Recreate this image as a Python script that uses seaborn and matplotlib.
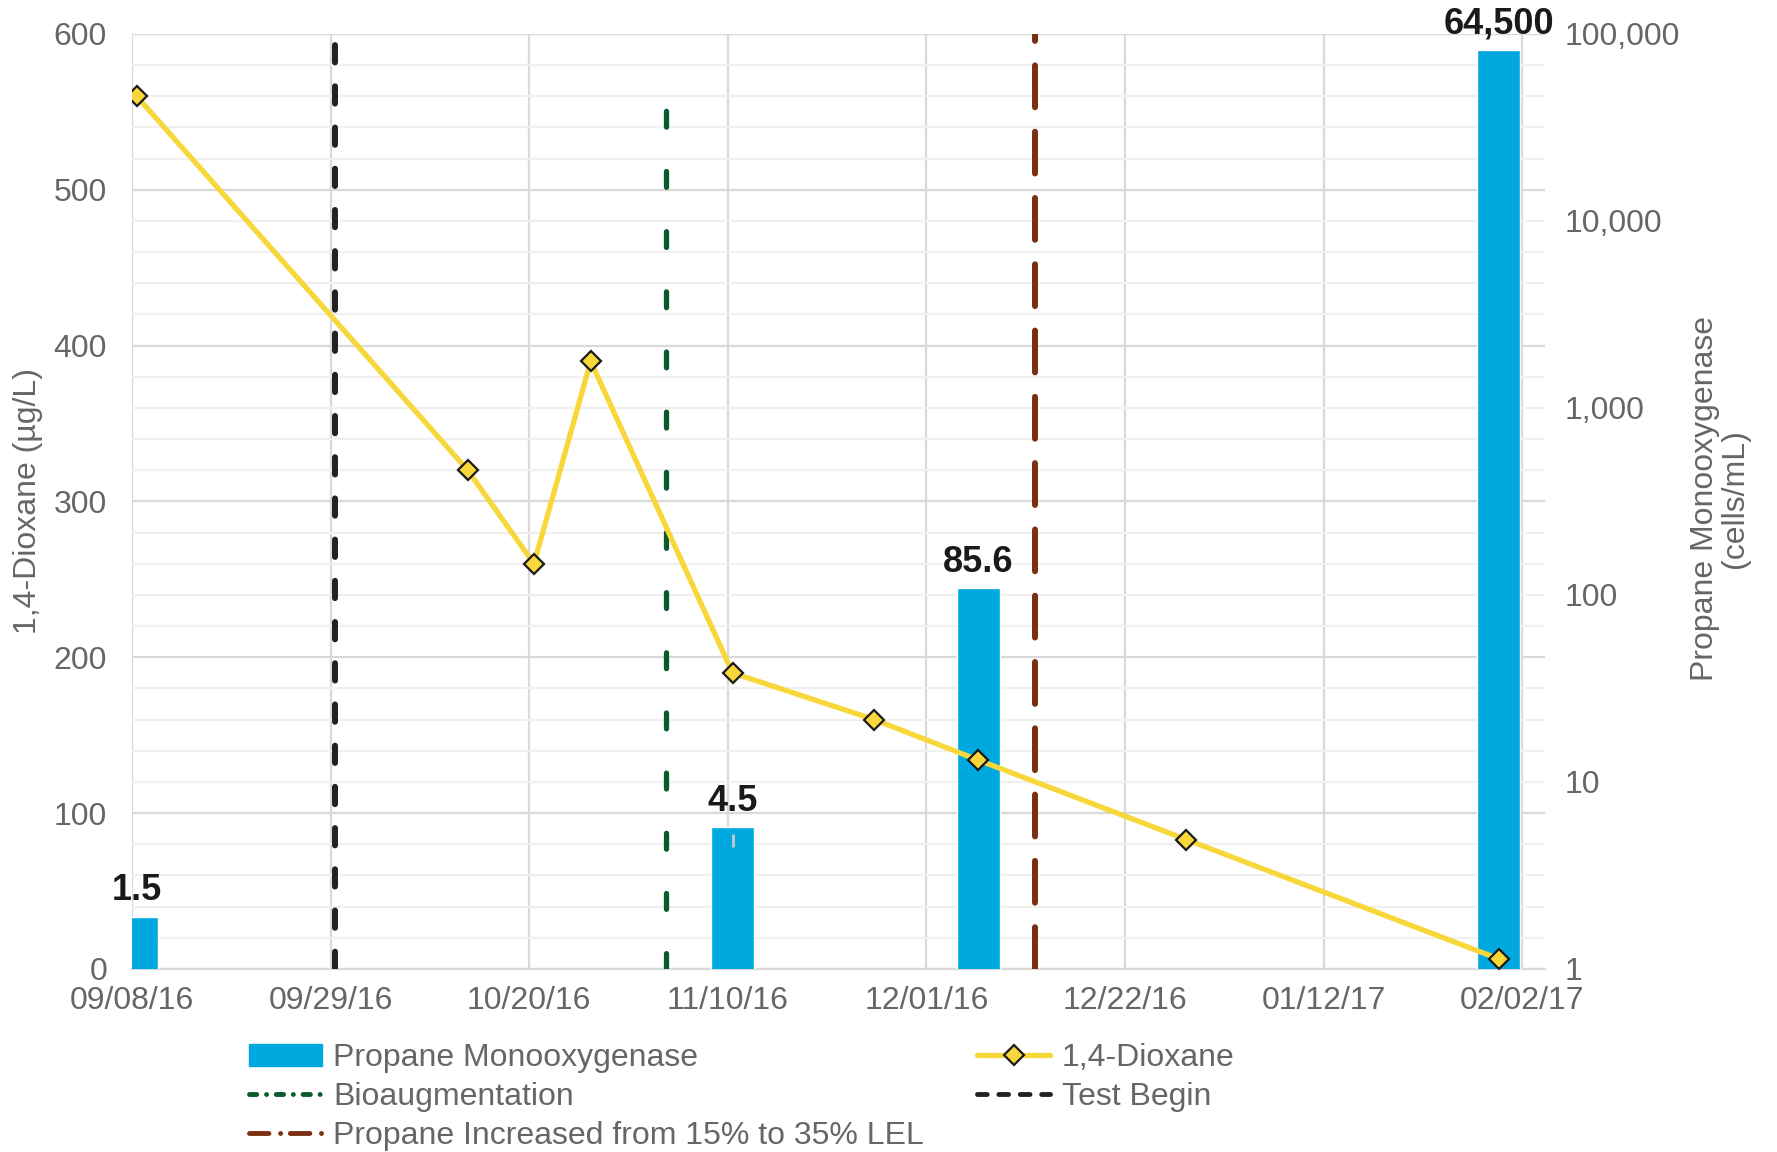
import matplotlib
matplotlib.use("Agg")
import matplotlib.pyplot as plt
import matplotlib.ticker as mticker
import matplotlib.dates as mdates
from matplotlib.lines import Line2D
from matplotlib.patches import Patch
import pandas as pd
import seaborn as sns

# ---------------------------------------------------------------------------
# Data
# ---------------------------------------------------------------------------
dioxane_dates = ["2016-09-08", "2016-10-13", "2016-10-20", "2016-10-26", "2016-11-10",
                 "2016-11-25", "2016-12-06", "2016-12-28", "2017-01-30"]
dioxane_ugL = [560, 320, 260, 390, 190, 160, 134, 83, 6.5]

pmo_dates = ["2016-09-08", "2016-11-10", "2016-12-06", "2017-01-30"]
pmo_bar_cells = [1.9, 5.75, 109, 82000]          # bar tops as drawn
pmo_labels = ["1.5", "4.5", "85.6", "64,500"]     # printed values
pmo_err_date = ["2016-11-10"]
pmo_err_low = [4.5]
pmo_err_high = [5.3]

test_begin = "2016-09-29"
bioaugmentation = "2016-11-03"
propane_increase = "2016-12-12"

tick_dates = ["2016-09-08", "2016-09-29", "2016-10-20", "2016-11-10",
              "2016-12-01", "2016-12-22", "2017-01-12", "2017-02-02"]
left_ticks = [0, 100, 200, 300, 400, 500, 600]
right_ticks = [1, 10, 100, 1000, 10000, 100000]

BLUE = "#00A8E0"
YELLOW = "#F8D73A"
GREEN = "#0B5A2A"
BROWN = "#7A3010"
BLACK = "#222222"
GRAY = "#666666"
GRID = "#d9d9d9"
GRID_MINOR = "#f0f0f0"

HALF_DAY = pd.Timedelta(hours=12)
FS = 23

sns.set_theme(style="white")
plt.rcParams["font.family"] = ["Liberation Sans", "DejaVu Sans"]

fig = plt.figure(figsize=(17.77, 11.52), dpi=100)
ax1 = fig.add_axes([0.0743, 0.1589, 0.7951, 0.8116])
ax2 = ax1.twinx()
ax3 = ax1.twinx()

# grid / left axis
ax1.set_ylim(0, 600)
ax1.set_yticks(left_ticks)
ax1.yaxis.set_minor_locator(mticker.MultipleLocator(20))
ax1.grid(which="major", axis="y", color=GRID, lw=1.6)
ax1.grid(which="minor", axis="y", color=GRID_MINOR, lw=1.6)
ax1.grid(which="major", axis="x", color=GRID, lw=1.6)
ax1.set_xticks(pd.to_datetime(tick_dates))
ax1.xaxis.set_major_formatter(mdates.DateFormatter("%m/%d/%y"))
ax1.set_xlim(pd.Timestamp("2016-09-08"), pd.Timestamp("2016-09-08") + pd.Timedelta(days=149.4))
ax1.tick_params(axis="y", which="both", length=0, labelsize=FS, labelcolor=GRAY, pad=18)
ax1.tick_params(axis="x", length=0, labelsize=FS, labelcolor=GRAY, pad=12)
ax1.set_ylabel("1,4-Dioxane (µg/L)", fontsize=FS, color=GRAY)
ax1.yaxis.set_label_coords(-0.063, 0.5)
for s in ax1.spines.values():
    s.set_visible(False)
ax1.spines["bottom"].set_visible(True)
ax1.spines["bottom"].set_color(GRID)
ax1.spines["bottom"].set_linewidth(1.6)

# bars on the log axis
pmo_x = pd.to_datetime(pmo_dates) + HALF_DAY
ax2.bar(pmo_x, pmo_bar_cells, width=4.55, color=BLUE, zorder=2)
ax2.vlines(pd.to_datetime(pmo_err_date) + HALF_DAY, pmo_err_low, pmo_err_high,
           color="#c8c8c8", lw=2, zorder=3)
ax2.set_yscale("log")
ax2.set_ylim(1, 100000)
ax2.set_yticks(right_ticks)
ax2.yaxis.set_minor_locator(mticker.NullLocator())
ax2.yaxis.set_major_formatter(mticker.FuncFormatter(lambda v, _: f"{v:,.0f}"))
ax2.tick_params(axis="y", length=0, labelsize=FS, labelcolor=GRAY, pad=14)
ax2.set_ylabel("Propane Monooxygenase\n(cells/mL)", fontsize=FS, color=GRAY, linespacing=1.0)
ax2.yaxis.set_label_coords(1.103, 0.503)
ax2.grid(False)
for s in ax2.spines.values():
    s.set_visible(False)
for x, h, lab in zip(pmo_x, pmo_bar_cells, pmo_labels):
    ax2.annotate(lab, (x, h), xytext=(0, 6), textcoords="offset points",
                 ha="center", va="bottom", fontsize=26, fontweight="bold",
                 color="#1a1a1a", annotation_clip=False)

# event lines and dioxane series
ax3.set_ylim(0, 600)
ax3.yaxis.set_visible(False)
ax3.grid(False)
for s in ax3.spines.values():
    s.set_visible(False)
ax3.axvline(pd.Timestamp(test_begin) + HALF_DAY, color=BLACK, lw=4.3,
            dashes=(2.9, 4.0), dash_capstyle="round")
ax3.axvline(pd.Timestamp(bioaugmentation) + HALF_DAY, ymin=0, ymax=578 / 600, color=GREEN,
            lw=3.8, dashes=(3.0, 8.4), dash_capstyle="round")
ax3.axvline(pd.Timestamp(propane_increase) + HALF_DAY, color=BROWN, lw=4.3,
            dashes=(7.0, 4.1), dash_capstyle="round")

sns.lineplot(x=pd.to_datetime(dioxane_dates) + HALF_DAY, y=dioxane_ugL, ax=ax3,
             color=YELLOW, lw=3.8, marker="D", markersize=10,
             markerfacecolor=YELLOW, markeredgecolor="#1a1a1a", markeredgewidth=1.6)

# legend
handles = [
    Patch(facecolor=BLUE, edgecolor=BLUE),
    Line2D([], [], color=GREEN, lw=3.5, dashes=(1.5, 2.0, 0.01, 2.0), dash_capstyle="round"),
    Line2D([], [], color=BROWN, lw=3.5, dashes=(4.0, 2.4, 0.01, 2.0), dash_capstyle="round"),
    Line2D([], [], color=YELLOW, lw=3.8, marker="D", markersize=10,
           markerfacecolor=YELLOW, markeredgecolor="#1a1a1a", markeredgewidth=1.6),
    Line2D([], [], color=BLACK, lw=3.5, dashes=(2.0, 2.4), dash_capstyle="round"),
]
labels = ["Propane Monooxygenase", "Bioaugmentation", "Propane Increased from 15% to 35% LEL",
          "1,4-Dioxane", "Test Begin"]
fig.legend(handles, labels, ncol=2, loc="upper left", bbox_to_anchor=(0.140, 0.0946),
           frameon=False, fontsize=FS, labelcolor=GRAY, handlelength=2.3,
           handletextpad=0.35, columnspacing=1.65, labelspacing=0.28,
           borderpad=0, borderaxespad=0)

fig.savefig("out.png", dpi=100)
